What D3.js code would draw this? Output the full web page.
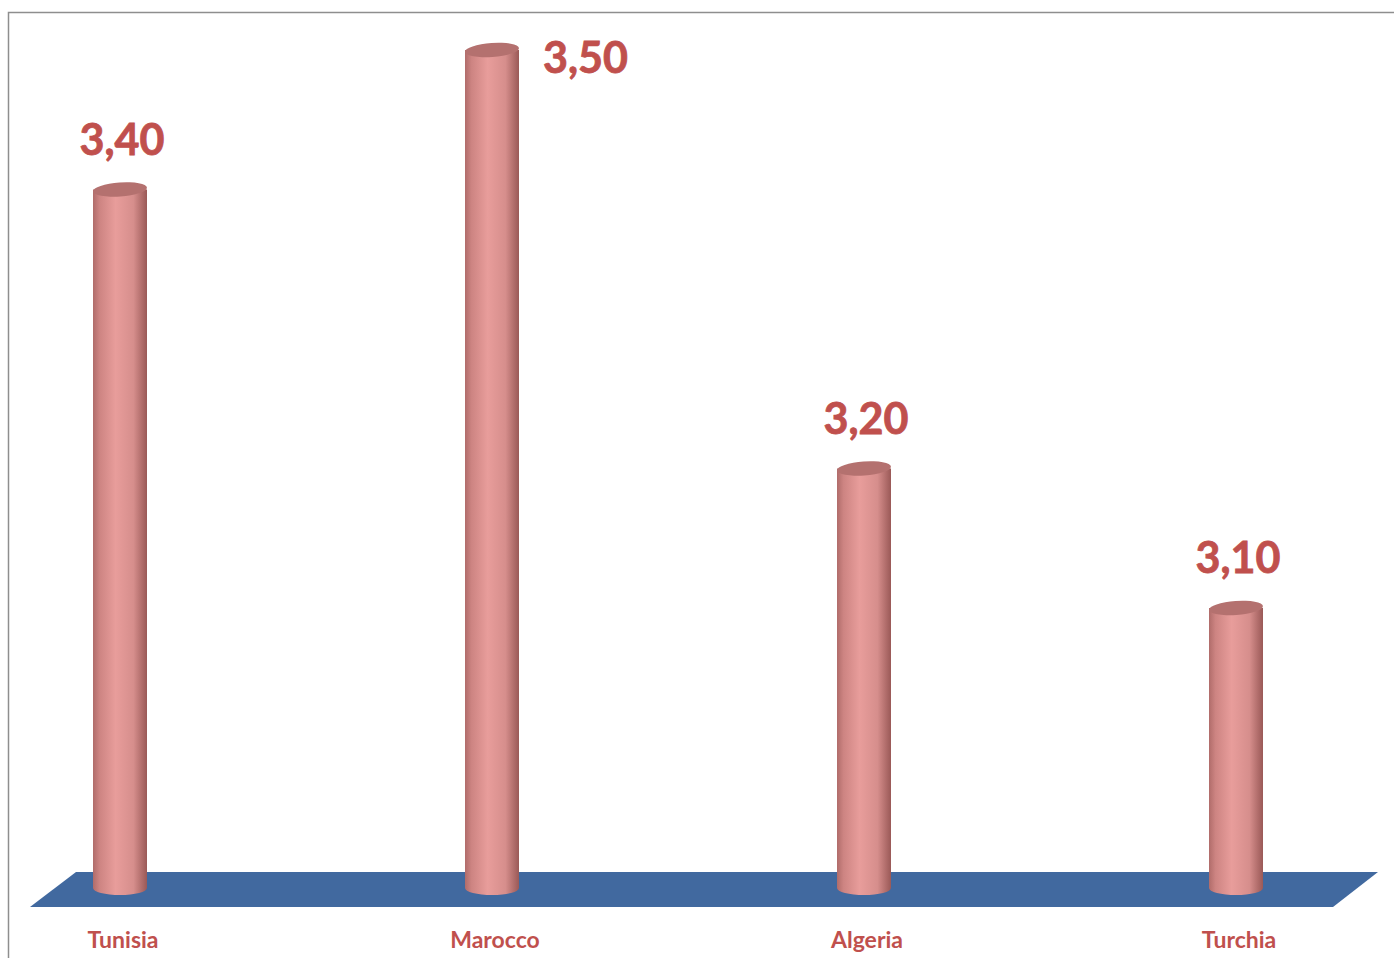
<!DOCTYPE html>
<html>
<head>
<meta charset="utf-8">
<script src="https://cdn.jsdelivr.net/npm/d3@7"></script>
<style>
  body { margin: 0; background: #fff; }
  svg { display: block; }
</style>
</head>
<body>
<script>
var svgW = 1394;
var svgH = 958;

var categories = ["Tunisia", "Marocco", "Algeria", "Turchia"];
var values = [3.40, 3.50, 3.20, 3.10];

var barW = 54;
var capRy = 7;
var baseY = 888;
var red = "#C0504D";
var font = "Lato, 'Open Sans', sans-serif";

var svg = d3.select("body")
  .append("svg")
  .attr("width", svgW)
  .attr("height", svgH);

var defs = svg.append("defs");
var grad = defs.append("linearGradient")
  .attr("id", "cyl")
  .attr("x1", "0%").attr("x2", "100%")
  .attr("y1", "0%").attr("y2", "0%");
grad.append("stop").attr("offset", "0%").attr("stop-color", "#B06C6A");
grad.append("stop").attr("offset", "12%").attr("stop-color", "#CD8482");
grad.append("stop").attr("offset", "42%").attr("stop-color", "#E89D9B");
grad.append("stop").attr("offset", "75%").attr("stop-color", "#D68E8C");
grad.append("stop").attr("offset", "100%").attr("stop-color", "#9A5957");

var x = d3.scalePoint()
  .domain(categories)
  .range([120, 1236]);

var y = d3.scaleLinear()
  .domain([2.9, 3.5])
  .range([887, 50]);

// cornice
svg.append("path")
  .attr("d", "M8.5," + svgH + "V12.5H" + svgW)
  .attr("fill", "none")
  .attr("stroke", "#8E8E8E")
  .attr("stroke-width", 1.5);

// pavimento
svg.append("polygon")
  .attr("points", [[76, 872], [1378, 872], [1333, 907], [30, 907]].join(" "))
  .attr("fill", "#41699F");

var bars = svg.selectAll("g.bar")
  .data(values)
  .enter()
  .append("g")
  .attr("class", "bar");

bars.append("ellipse")
  .attr("cx", function(d, i) { return x(categories[i]); })
  .attr("cy", baseY)
  .attr("rx", barW / 2)
  .attr("ry", capRy)
  .attr("fill", "url(#cyl)");

bars.append("rect")
  .attr("x", function(d, i) { return x(categories[i]) - barW / 2; })
  .attr("y", function(d) { return y(d); })
  .attr("width", barW)
  .attr("height", function(d) { return baseY - y(d); })
  .attr("fill", "url(#cyl)");

bars.append("ellipse")
  .attr("cx", function(d, i) { return x(categories[i]); })
  .attr("cy", function(d) { return y(d); })
  .attr("rx", barW / 2)
  .attr("ry", capRy)
  .attr("transform", function(d, i) {
    return "rotate(-4," + x(categories[i]) + "," + y(d) + ")";
  })
  .attr("fill", "#B4716F");

svg.selectAll("text.val")
  .data(values)
  .enter()
  .append("text")
  .attr("class", "val")
  .text(function(d) { return d.toFixed(2).replace(".", ","); })
  .attr("text-anchor", function(d) { return y(d) - 67 < 20 ? "start" : "middle"; })
  .attr("x", function(d, i) {
    return y(d) - 67 < 20 ? x(categories[i]) + 51 : x(categories[i]) + 2;
  })
  .attr("y", function(d) { return y(d) - 67 < 20 ? y(d) + 23 : y(d) - 35; })
  .attr("font-family", font)
  .attr("font-weight", "bold")
  .attr("font-size", "43px")
  .attr("fill", red)
  .attr("stroke", red)
  .attr("stroke-width", 0.8);

svg.selectAll("text.cat")
  .data(categories)
  .enter()
  .append("text")
  .attr("class", "cat")
  .text(function(d) { return d; })
  .attr("text-anchor", "middle")
  .attr("x", function(d) { return x(d) + 3; })
  .attr("y", 948)
  .attr("font-family", font)
  .attr("font-weight", "bold")
  .attr("font-size", "23px")
  .attr("fill", red);
</script>
</body>
</html>
